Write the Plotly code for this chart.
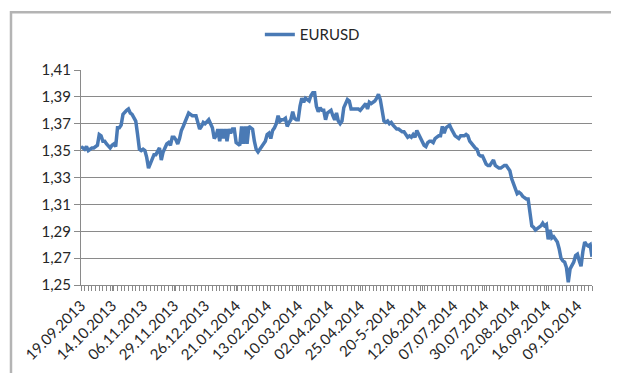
import pandas as pd
import plotly.graph_objects as go

SERIES_NAME = "EURUSD"
EXCLUDED_DAYS = ["2013-12-24", "2013-12-25", "2014-01-01"]
_days = [d for d in pd.bdate_range("2013-09-19", "2014-10-21")
         if d.strftime("%Y-%m-%d") not in EXCLUDED_DAYS]
CATEGORIES = [d.strftime("%d.%m.%Y") for d in _days]

TICK_LABELS = ["19.09.2013", "14.10.2013", "06.11.2013", "29.11.2013", "26.12.2013",
               "21.01.2014", "13.02.2014", "10.03.2014", "02.04.2014", "25.04.2014",
               "20-5-2014", "12.06.2014", "07.07.2014", "30.07.2014", "22.08.2014",
               "16.09.2014", "09.10.2014"]
LABEL_STEP = 17

EURUSD = [
    1.353, 1.352, 1.351, 1.353, 1.350, 1.351, 1.352, 1.352, 1.353, 1.354,
    1.362, 1.361, 1.357, 1.357, 1.355, 1.353, 1.352, 1.354, 1.355, 1.353,
    1.367, 1.367, 1.369, 1.377, 1.379, 1.380, 1.381, 1.378, 1.377, 1.375,
    1.372, 1.362, 1.351, 1.350, 1.351, 1.350, 1.345, 1.337, 1.341, 1.344,
    1.347, 1.347, 1.349, 1.352, 1.343, 1.349, 1.352, 1.355, 1.356, 1.354,
    1.360, 1.360, 1.358, 1.355, 1.359, 1.365, 1.368, 1.371, 1.375, 1.378,
    1.377, 1.376, 1.376, 1.376, 1.371, 1.366, 1.368, 1.371, 1.370, 1.372,
    1.373, 1.370, 1.367, 1.359, 1.361, 1.366, 1.357, 1.366, 1.359, 1.366,
    1.357, 1.366, 1.363, 1.366, 1.366, 1.356, 1.355, 1.354, 1.368, 1.355,
    1.368, 1.355, 1.368, 1.367, 1.366, 1.357, 1.351, 1.349, 1.351, 1.354,
    1.356, 1.357, 1.362, 1.363, 1.359, 1.365, 1.367, 1.370, 1.376, 1.372,
    1.373, 1.373, 1.374, 1.368, 1.371, 1.373, 1.379, 1.374, 1.373, 1.373,
    1.383, 1.389, 1.386, 1.389, 1.388, 1.387, 1.391, 1.393, 1.393, 1.383,
    1.379, 1.382, 1.380, 1.380, 1.373, 1.378, 1.379, 1.380, 1.376, 1.373,
    1.378, 1.372, 1.370, 1.372, 1.382, 1.386, 1.388, 1.387, 1.381, 1.381,
    1.381, 1.381, 1.381, 1.380, 1.382, 1.383, 1.385, 1.381, 1.386, 1.385,
    1.386, 1.387, 1.389, 1.392, 1.388, 1.381, 1.372, 1.371, 1.372, 1.370,
    1.371, 1.369, 1.367, 1.366, 1.366, 1.365, 1.364, 1.364, 1.362, 1.360,
    1.361, 1.360, 1.362, 1.360, 1.365, 1.362, 1.359, 1.356, 1.354, 1.353,
    1.356, 1.357, 1.357, 1.356, 1.359, 1.360, 1.361, 1.361, 1.368, 1.363,
    1.367, 1.368, 1.369, 1.366, 1.363, 1.361, 1.360, 1.359, 1.361, 1.361,
    1.361, 1.362, 1.361, 1.357, 1.355, 1.353, 1.352, 1.351, 1.347, 1.346,
    1.346, 1.343, 1.340, 1.339, 1.339, 1.341, 1.343, 1.339, 1.338, 1.337,
    1.337, 1.338, 1.339, 1.339, 1.337, 1.335, 1.329, 1.325, 1.323, 1.318,
    1.319, 1.318, 1.316, 1.315, 1.314, 1.314, 1.302, 1.294, 1.293, 1.291,
    1.292, 1.293, 1.294, 1.296, 1.294, 1.295, 1.284, 1.291, 1.285, 1.286,
    1.284, 1.282, 1.277, 1.270, 1.268, 1.267, 1.263, 1.252, 1.262, 1.264,
    1.267, 1.272, 1.273, 1.268, 1.264, 1.275, 1.282, 1.280, 1.279, 1.280, 1.271,
]

Y_MIN, Y_MAX, Y_STEP = 1.25, 1.41, 0.02

FONT = "Lato"
TXT = "#262626"
GRID = "#8a8a8a"
LINE = "#4a7ab5"

n = len(CATEGORIES)
fig = go.Figure()
fig.add_trace(go.Scatter(
    x=CATEGORIES, y=EURUSD, mode="lines", name=SERIES_NAME,
    line=dict(color=LINE, width=3.5),
))
# invisible helper trace to carry the minor tick-mark axis
fig.add_trace(go.Scatter(
    x=list(range(n)), y=EURUSD, xaxis="x2", mode="lines",
    line=dict(width=0), opacity=0, showlegend=False, hoverinfo="skip",
))

fig.update_layout(
    width=619, height=373,
    margin=dict(l=73, r=35, t=61, b=96),
    paper_bgcolor="white", plot_bgcolor="white",
    separators=",.",
    font=dict(family=FONT, size=15, color=TXT),
    showlegend=True,
    legend=dict(orientation="h", x=0.35, xanchor="left", y=1.158, yanchor="middle",
                font=dict(family=FONT, size=15, color=TXT), itemwidth=30,
                bgcolor="rgba(0,0,0,0)"),
    xaxis=dict(
        type="category", range=[0, n - 1],
        tickmode="array", tickvals=CATEGORIES[::LABEL_STEP], ticktext=TICK_LABELS,
        tickangle=-45, showgrid=False, showline=True, linecolor=GRID, linewidth=1,
        ticks="outside", ticklen=5, tickcolor=GRID,
        tickfont=dict(family=FONT, size=15, color=TXT),
    ),
    xaxis2=dict(
        overlaying="x", anchor="y", side="bottom", range=[0, n - 1],
        tick0=0, dtick=2, ticks="outside", ticklen=5, tickcolor=GRID,
        showticklabels=False, showgrid=False, showline=False, zeroline=False,
    ),
    yaxis=dict(
        range=[Y_MIN, Y_MAX], dtick=Y_STEP, tick0=Y_MIN, tickformat=".2f",
        showgrid=True, gridcolor=GRID, gridwidth=1, zeroline=False,
        showline=True, linecolor=GRID, linewidth=1,
        ticks="outside", ticklen=6, tickcolor=GRID,
        tickfont=dict(family=FONT, size=15, color=TXT),
    ),
    shapes=[dict(type="rect", xref="paper", yref="paper",
                 x0=-0.137, x1=1.0626, y0=-0.426, y1=1.269,
                 line=dict(color="#b4b4b4", width=2.5), fillcolor="rgba(0,0,0,0)",
                 layer="below")],
)

fig.write_html("out.html")
